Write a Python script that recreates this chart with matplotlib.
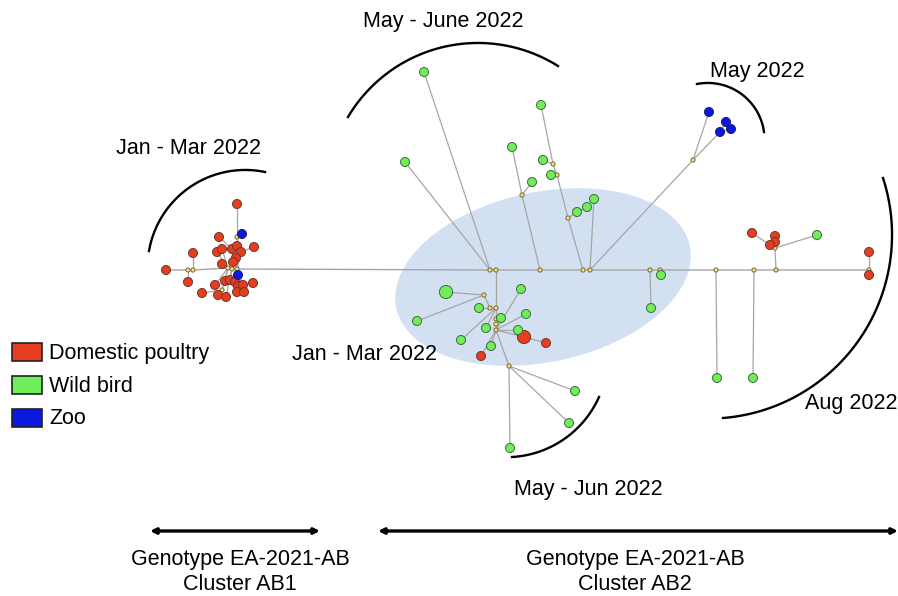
import numpy as np
import matplotlib.pyplot as plt
from matplotlib.patches import Ellipse, Rectangle

plt.rcParams['font.family'] = ['Liberation Sans', 'DejaVu Sans']

# ---------------------------------------------
# Network layout (positions in drawing units)
# ---------------------------------------------

# median vectors / unsampled nodes
hubs = {
    "a1": (188, 270), "a2": (193, 270), "a3": (228, 268), "a4": (232, 269),
    "a5": (237, 269), "a6": (222, 290), "a7": (237, 237),
    "b1": (490, 270), "b2": (496, 270), "b3": (540, 270), "b4": (583, 270),
    "b5": (590, 270), "b6": (650, 270), "b7": (660, 270), "b8": (716, 270),
    "b9": (754, 270), "b10": (776, 270), "b11": (869, 270),
    "c1": (522, 195), "c2": (553, 164), "c3": (557, 175), "c4": (568, 218),
    "c5": (693, 160), "c6": (775, 248),
    "d1": (484, 295), "d2": (490, 308), "d3": (496, 308), "d4": (496, 319),
    "d5": (496, 324), "d6": (496, 330), "d7": (509, 366),
}

# domestic poultry
poultry = {
    "p1": (166, 270), "p2": (193, 253), "p3": (188, 282), "p4": (237, 204),
    "p5": (219, 237), "p6": (254, 247), "p7": (232, 249), "p8": (237, 246),
    "p9": (241, 252), "p10": (217, 252), "p11": (222, 249), "p12": (236, 258),
    "p13": (233, 262), "p14": (222, 264), "p15": (225, 281), "p16": (230, 280),
    "p17": (235, 282), "p18": (238, 286), "p19": (243, 285), "p20": (253, 283),
    "p21": (215, 285), "p22": (202, 293), "p23": (218, 295), "p24": (226, 297),
    "p25": (237, 292), "p26": (244, 292),
    "r1": (524, 337), "r2": (546, 343), "r3": (481, 356),
    "r4": (752, 233), "r5": (775, 236), "r6": (775, 242), "r7": (770, 245),
    "r8": (869, 252), "r9": (869, 275),
}
poultry_big = ["r1"]

# wild birds
wild = {
    "w1": (424, 72), "w2": (405, 162), "w3": (512, 147), "w4": (532, 182),
    "w5": (541, 105), "w6": (543, 160), "w7": (551, 175), "w8": (577, 212),
    "w9": (587, 207), "w10": (594, 199), "w11": (651, 308), "w12": (661, 275),
    "w13": (717, 378), "w14": (753, 378), "w15": (817, 235),
    "w16": (446, 292), "w17": (417, 321), "w18": (479, 308), "w19": (521, 289),
    "w20": (526, 314), "w21": (501, 318), "w22": (486, 328), "w23": (461, 340),
    "w24": (491, 346), "w25": (518, 330), "w26": (575, 391), "w27": (569, 423),
    "w28": (510, 448),
}
wild_big = ["w16"]

# zoo birds
zoo = {
    "z1": (242, 234), "z2": (238, 275),
    "z3": (709, 112), "z4": (726, 122), "z5": (731, 129), "z6": (720, 132),
}

backbone = ["p1", "a1", "a2", "a3", "a4", "a5", "b1", "b2", "b3", "b4",
            "b5", "b6", "b7", "b8", "b9", "b10", "b11"]

edges = [
    ("a2", "p2"), ("a1", "p3"), ("p4", "a7"), ("z1", "a7"), ("a7", "p8"),
    ("p8", "a5"), ("p5", "p7"), ("p7", "a4"), ("p6", "p9"), ("p9", "a5"),
    ("p10", "a3"), ("p11", "a3"), ("p12", "a5"), ("p13", "a4"), ("p14", "a3"),
    ("a5", "z2"), ("a3", "p15"), ("a4", "p16"), ("a5", "p17"), ("a5", "p18"),
    ("a5", "p19"), ("p19", "p20"), ("a3", "p21"), ("a3", "a6"), ("a6", "p22"),
    ("a6", "p23"), ("a4", "p24"), ("a5", "p25"), ("a5", "p26"),
    ("w1", "b1"), ("w2", "b1"), ("w3", "c1"), ("w4", "c1"), ("c1", "b3"),
    ("w5", "c2"), ("w6", "c2"), ("c2", "c3"), ("w7", "c3"), ("c3", "c4"),
    ("c4", "b4"), ("c4", "w8"), ("w8", "w9"), ("w10", "b5"), ("b5", "c5"),
    ("c5", "z3"), ("c5", "z6"), ("z6", "z4"), ("z6", "z5"),
    ("b6", "w11"), ("b7", "w12"), ("b8", "w13"), ("b9", "w14"),
    ("b10", "c6"), ("c6", "w15"), ("c6", "r6"), ("r6", "r5"), ("c6", "r7"),
    ("r7", "r4"), ("b11", "r8"), ("b11", "r9"),
    ("b2", "d3"), ("d3", "d4"), ("d4", "d5"), ("d5", "d6"), ("d6", "d7"),
    ("d1", "d2"), ("d2", "d3"), ("w16", "d1"), ("w17", "d1"), ("w18", "d2"),
    ("w19", "d6"), ("w20", "d6"), ("w21", "d4"), ("w22", "d3"), ("w23", "d3"),
    ("w24", "d6"), ("w25", "d6"), ("d6", "r1"), ("r1", "r2"), ("d6", "r3"),
    ("d7", "w26"), ("d7", "w27"), ("d7", "w28"),
]

# sampling period brackets: three points on each arc
period_arcs = [
    [(149, 251), (172, 203), (265, 172)],
    [(348, 117), (480, 43), (558, 66)],
    [(697, 84), (740, 93), (764, 132)],
    [(883, 178), (892, 232), (723, 418)],
    [(599, 397), (567, 437), (512, 457)],
]
period_labels = ["Jan - Mar 2022", "May - June 2022", "May 2022",
                 "Aug 2022", "May - Jun 2022", "Jan - Mar 2022"]
period_label_pos = [(189, 148), (443, 22), (757, 71),
                    (851, 404), (588, 490), (364, 355)]

legend_labels = ["Domestic poultry", "Wild bird", "Zoo"]

cluster_labels = ["Genotype EA-2021-AB\nCluster AB1",
                  "Genotype EA-2021-AB\nCluster AB2"]
cluster_spans = [(150, 320), (378, 898)]
cluster_label_x = [240, 635]

RED = "#e63c20"
GREEN = "#70ee5a"
BLUE = "#0a18e0"
HUB = "#efe08a"

nodes = {**hubs, **poultry, **wild, **zoo}

# ---------------------------------------------
# Helpers
# ---------------------------------------------

def arc_points(p1, p2, p3, n=120):
    (ax_, ay_), (bx, by), (cx, cy) = p1, p2, p3
    d = 2 * (ax_ * (by - cy) + bx * (cy - ay_) + cx * (ay_ - by))
    ux = ((ax_**2 + ay_**2) * (by - cy) + (bx**2 + by**2) * (cy - ay_)
          + (cx**2 + cy**2) * (ay_ - by)) / d
    uy = ((ax_**2 + ay_**2) * (cx - bx) + (bx**2 + by**2) * (ax_ - cx)
          + (cx**2 + cy**2) * (bx - ax_)) / d
    r = np.hypot(ax_ - ux, ay_ - uy)
    t1 = np.arctan2(ay_ - uy, ax_ - ux)
    t2 = np.arctan2(by - uy, bx - ux)
    t3 = np.arctan2(cy - uy, cx - ux)
    span = (t3 - t1) % (2 * np.pi)
    if (t2 - t1) % (2 * np.pi) > span:
        span -= 2 * np.pi
    t = t1 + np.linspace(0, 1, n) * span
    return ux + r * np.cos(t), uy + r * np.sin(t)


def draw_nodes(group, color, big, size, big_size, edge):
    names = list(group)
    xs = [group[k][0] for k in names]
    ys = [group[k][1] for k in names]
    sizes = [big_size if k in big else size for k in names]
    ax.scatter(xs, ys, s=sizes, c=color, edgecolors=edge,
               linewidths=0.7, zorder=4)

# ---------------------------------------------
# Figure
# ---------------------------------------------

fig = plt.figure(figsize=(8.98, 5.96), dpi=100)
ax = fig.add_axes([0, 0, 1, 1])
ax.set_xlim(0, 898)
ax.set_ylim(596, 0)
ax.axis("off")

ax.add_patch(Ellipse((543, 277), 300, 170, angle=-12,
                     facecolor="#d3e0f1", edgecolor="none", zorder=0))

# edges
bx_ = [nodes[k][0] for k in backbone]
by_ = [nodes[k][1] for k in backbone]
ax.plot(bx_, by_, color="#a6a6a6", lw=1.0, zorder=1)
for a, b in edges:
    ax.plot([nodes[a][0], nodes[b][0]], [nodes[a][1], nodes[b][1]],
            color="#a6a6a6", lw=0.9, zorder=1)

# nodes
draw_nodes(hubs, HUB, [], 9, 9, "#7a6a30")
draw_nodes(poultry, RED, poultry_big, 42, 90, "#6a3a2a")
draw_nodes(wild, GREEN, wild_big, 42, 90, "#3f6a3a")
draw_nodes(zoo, BLUE, [], 42, 42, "#1a1a6a")

# period arcs and labels
for pts in period_arcs:
    xs, ys = arc_points(*pts)
    ax.plot(xs, ys, color="black", lw=1.7, zorder=3)

for label, (x, y) in zip(period_labels, period_label_pos):
    ax.text(x, y, label, fontsize=15.5, ha="center", va="center", zorder=5)

# legend
legend_colors = [RED, GREEN, BLUE]
for i, (label, color) in enumerate(zip(legend_labels, legend_colors)):
    y = 352 + i * 33
    ax.add_patch(Rectangle((12, y - 9), 30, 18, facecolor=color,
                           edgecolor="#222222", lw=1.2, zorder=5))
    ax.text(49, y + 1, label, fontsize=15.5, ha="left", va="center")

# genotype / cluster spans
for (x0, x1), label, lx in zip(cluster_spans, cluster_labels, cluster_label_x):
    ax.annotate("", xy=(x0, 531), xytext=(x1, 531),
                arrowprops=dict(arrowstyle="<|-|>", color="black",
                                lw=2.4, mutation_scale=8,
                                shrinkA=0, shrinkB=0))
    ax.text(lx, 572, label, fontsize=15.5, ha="center", va="center",
            linespacing=1.3)

fig.savefig("out.png", dpi=100)
